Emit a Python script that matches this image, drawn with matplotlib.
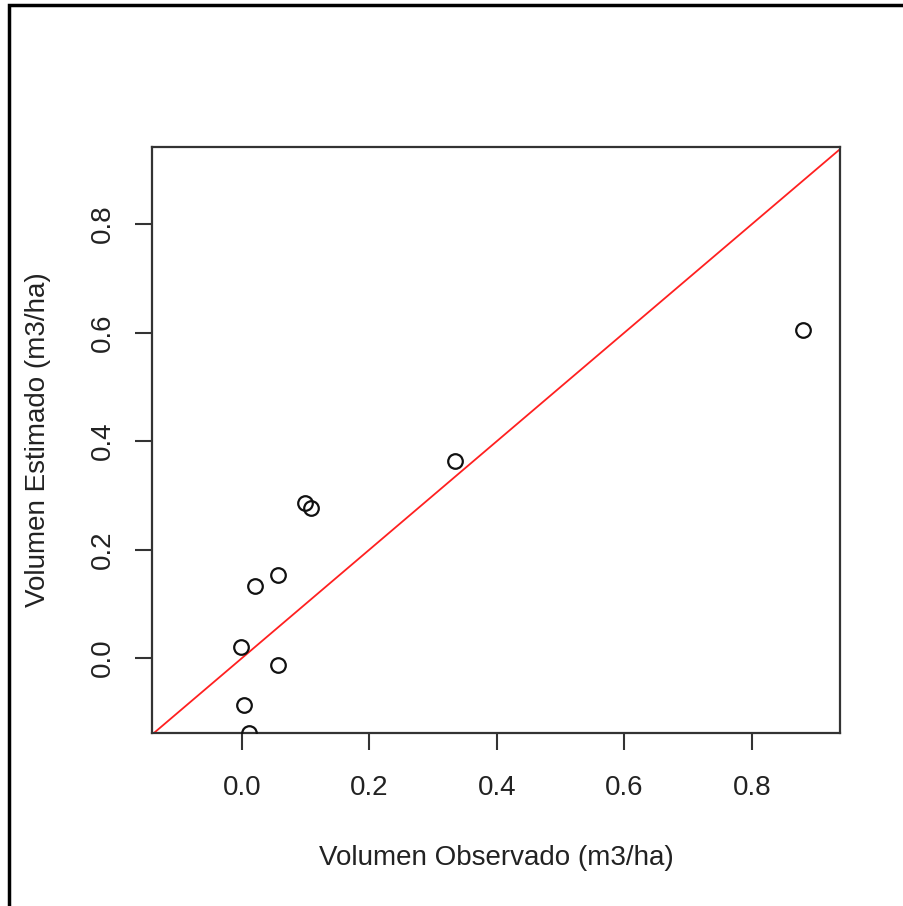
import matplotlib.pyplot as plt
from matplotlib.patches import Rectangle

plt.rcParams['font.family'] = ['Liberation Sans', 'DejaVu Sans']

# observed vs estimated volume (m3/ha)
observado = [0.880, 0.334, 0.099, 0.108, 0.056, 0.020, -0.002, 0.056, 0.003, 0.011]
estimado = [0.605, 0.363, 0.286, 0.276, 0.153, 0.133, 0.020, -0.013, -0.087, -0.138]
ticks = [0.0, 0.2, 0.4, 0.6, 0.8]
tick_labels = ['0.0', '0.2', '0.4', '0.6', '0.8']

txt = '#222222'
fig = plt.figure(figsize=(9.04, 9.06), dpi=100)
ax = fig.add_axes([152 / 904, 173 / 906, 688 / 904, 586 / 906])

ax.plot(observado, estimado, 'o', ms=10.5, mfc='none', mec='#111111', mew=1.6,
        zorder=3)
ax.axline((0, 0), slope=1, color='#ff2020', lw=1.3)

ax.set_xlim(-0.141, 0.938)
ax.set_ylim(-0.138, 0.942)
ax.set_xticks(ticks)
ax.set_xticklabels(tick_labels)
ax.set_yticks(ticks)
ax.set_yticklabels(tick_labels, rotation=90, va='center')
ax.tick_params(length=12, width=1.5, color='#333333', labelsize=20,
               labelcolor=txt, pad=14)
ax.tick_params(axis='x', pad=18)

for s in ax.spines.values():
    s.set_linewidth(1.6)
    s.set_color('#333333')

ax.set_xlabel('Volumen Observado (m3/ha)', fontsize=20, color=txt)
ax.xaxis.set_label_coords(0.5, -0.213)
ax.xaxis.label.set_va('center')
ax.set_ylabel('Volumen Estimado (m3/ha)', fontsize=20, color=txt)
ax.yaxis.set_label_coords(-0.166, 0.5)
ax.yaxis.label.set_va('center')

# outer frame (left and top edges visible)
fig.patches.append(Rectangle((9 / 904, -0.02), 1.1, 1 - 5 / 906 + 0.02,
                             transform=fig.transFigure, fill=False,
                             ec='black', lw=2.5, clip_on=False))

fig.savefig('out.png', dpi=100, facecolor='white')
